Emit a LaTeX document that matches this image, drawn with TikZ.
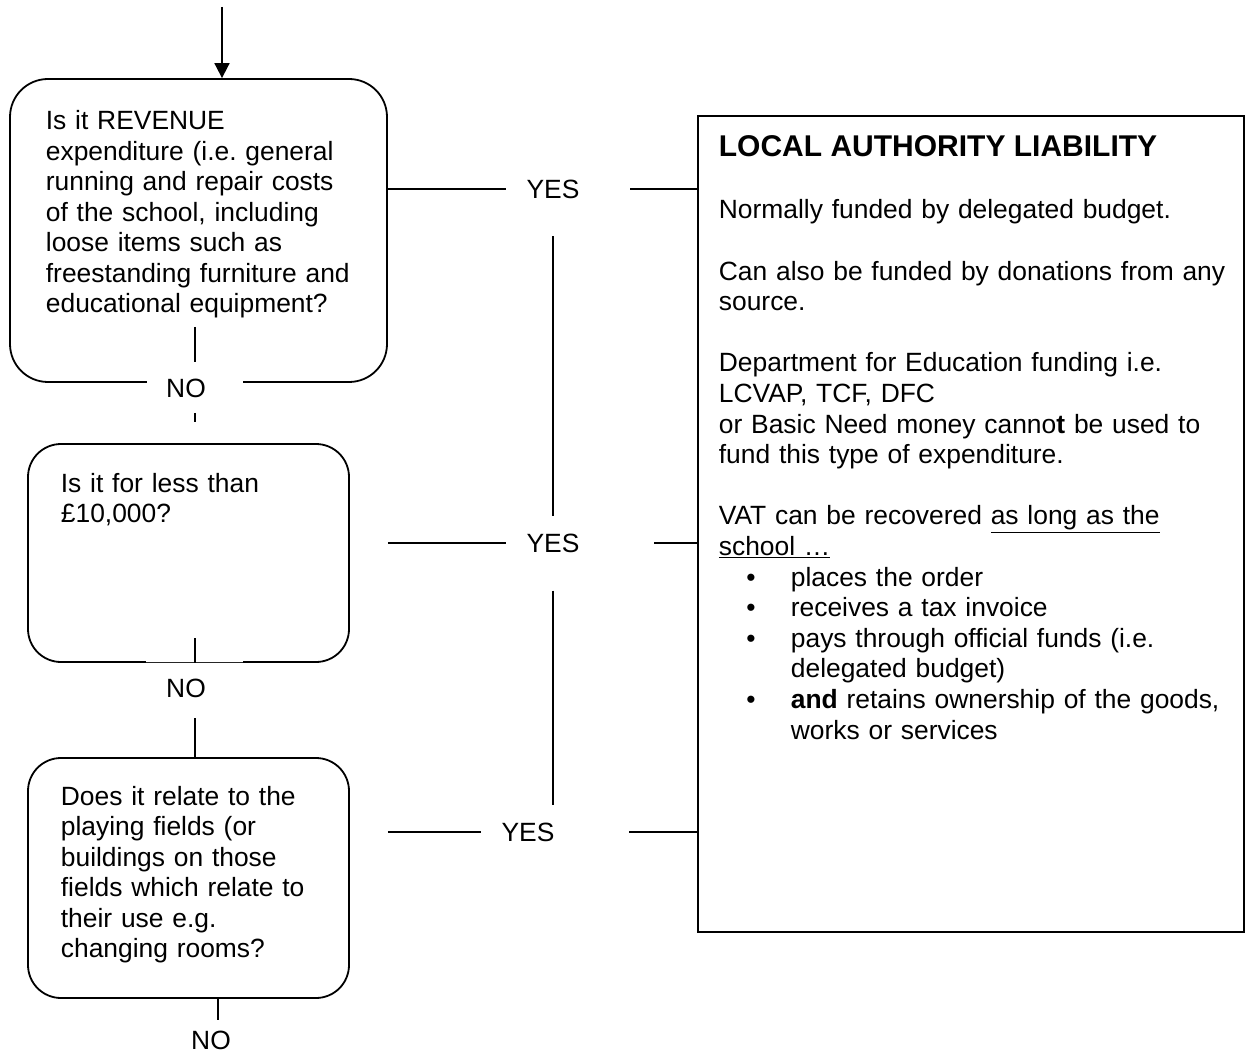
\documentclass[tikz,border=0pt]{standalone}
\usepackage{fontspec}
\setmainfont{Liberation Sans}
\usetikzlibrary{arrows.meta,calc}
\frenchspacing
\begin{document}
\begin{tikzpicture}[x=1pt,y=-1pt,line width=1.8pt,
  qbox/.style={draw,line width=1.8pt,inner sep=0pt},
  txt/.style={anchor=base west,inner sep=0pt,align=left,text width=#1,
    font=\fontsize{26.4pt}{30.5pt}\selectfont\frenchspacing},
  lbl/.style={inner sep=0pt,font=\fontsize{26.4pt}{30.5pt}\selectfont},
  conn/.style={line width=1.8pt}]
\useasboundingbox (0,0) rectangle (1245,1056);
% question boxes
\node[qbox,rounded corners=38pt,minimum width=377pt,minimum height=303pt] (q1) at (198.5,230.5) {};
\node[qbox,rounded corners=33pt,minimum width=321pt,minimum height=218pt] (q2) at (188.5,553) {};
\node[qbox,rounded corners=33pt,minimum width=321pt,minimum height=240pt] (q3) at (188.5,878) {};
% result box
\node[qbox,minimum width=546pt,minimum height=816pt] (R) at (971,524) {};
% gaps in box bottoms
\fill[white] (147,377) rectangle (243,387);
\fill[white] (146,658) rectangle (243,666);
\draw[line width=0.9pt,black!85] (146,662) -- (243,662);
% texts
\node[txt=340pt] (t1) at (45,130) {Is it REVENUE\\expenditure (i.e. general\\running and repair costs\\of the school, including\\loose items such as\\freestanding furniture and\\educational equipment?};
\node[txt=280pt] (t2) at (60,492) {Is it for less than\\£10,000?};
\node[txt=280pt] (t3) at (60,805) {Does it relate to the\\playing fields (or\\buildings on those\\fields which relate to\\their use e.g.\\changing rooms?};
\node[anchor=base west,inner sep=0pt,font=\fontsize{30pt}{36pt}\selectfont\bfseries] (title) at (718,157) {LOCAL AUTHORITY LIABILITY};
\node[anchor=base west,inner sep=0pt,align=left,text width=515pt,
  font=\fontsize{26.4pt}{30.6pt}\selectfont\frenchspacing] (body) at (718,219) {%
Normally funded by delegated budget.\\[30.6pt]
Can also be funded by donations from any\\
source.\\[30.6pt]
Department for Education funding i.e.\\
LCVAP, TCF, DFC\\
or Basic Need money canno\textbf{t} be used to\\
fund this type of expenditure.\\[30.6pt]
VAT can be recovered \underline{as long as the}\\
\underline{school …}\\
\hspace*{27.4pt}\makebox[44.6pt][l]{•}places the order\\
\hspace*{27.4pt}\makebox[44.6pt][l]{•}receives a tax invoice\\
\hspace*{27.4pt}\makebox[44.6pt][l]{•}pays through official funds (i.e.\\
\hspace*{72pt}delegated budget)\\
\hspace*{27.4pt}\makebox[44.6pt][l]{•}\textbf{and} retains ownership of the goods,\\
\hspace*{72pt}works or services};
% labels
\node[lbl] (Y1) at (553,189) {YES};
\node[lbl] (Y2) at (553,543) {YES};
\node[lbl] (Y3) at (528,832) {YES};
\node[lbl] (N1) at (186,388) {NO};
\node[lbl] (N2) at (186,688) {NO};
\node[lbl] (N3) at (211,1040) {NO};
% entry arrow
\coordinate (start) at (222,7);
\draw[conn,-{Triangle[length=15pt,width=15pt]}] (start) -- (start |- q1.north);
% YES connectors
\draw[conn] (q1.east |- Y1) -- ($(Y1.west)+(-20,0)$);
\draw[conn] ($(Y1.east)+(50,0)$) -- (R.west |- Y1);
\draw[conn] (q1.east |- Y2) -- ($(Y2.west)+(-20,0)$);
\draw[conn] ($(Y2.east)+(74,0)$) -- (R.west |- Y2);
\draw[conn] (q1.east |- Y3) -- ($(Y3.west)+(-20,0)$);
\draw[conn] ($(Y3.east)+(74,0)$) -- (R.west |- Y3);
\draw[conn] ($(Y1.south)+(0,37)$) -- ($(Y2.north)+(0,-16.5)$);
\draw[conn] ($(Y2.south)+(0,37.5)$) -- ($(Y3.north -| Y2.center)+(0,-17)$);
% NO connectors
\coordinate (n1a) at (195,327);
\coordinate (n1b) at (195,362);
\coordinate (n1c) at (195,413);
\coordinate (n1d) at (195,422);
\draw[conn] (n1a) -- (n1b);
\draw[conn] (n1c) -- (n1d);
\coordinate (n2a) at (195,638);
\draw[conn] (n2a) -- (n2a |- q2.south);
\coordinate (n2b) at (195,718);
\draw[conn] (n2b) -- (n2b |- q3.north);
\coordinate (n3a) at (218,1020);
\draw[conn] (n3a |- q3.south) -- (n3a);
\end{tikzpicture}
\end{document}
